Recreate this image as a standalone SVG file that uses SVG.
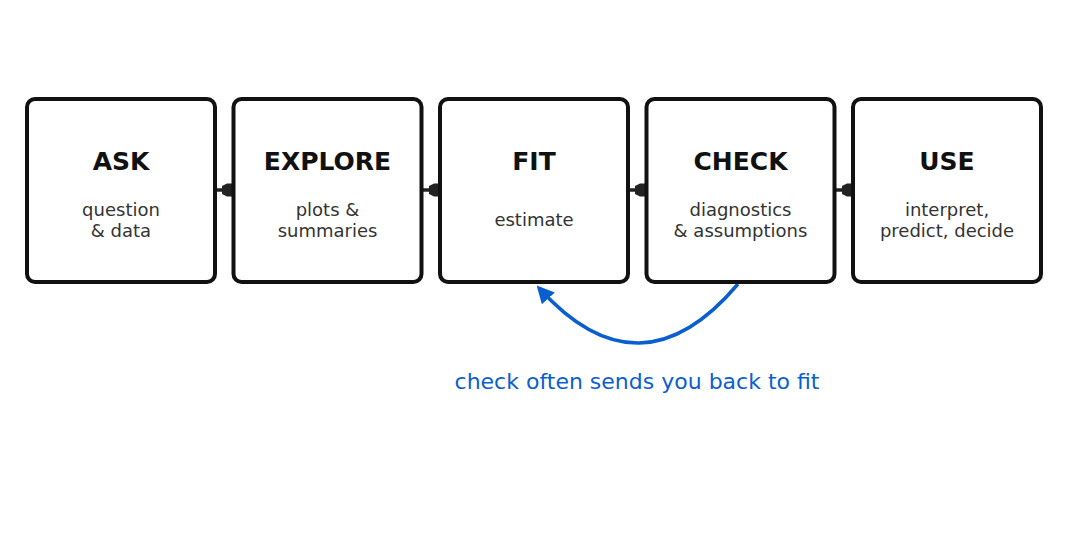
<svg xmlns="http://www.w3.org/2000/svg" width="1068" height="543" viewBox="0 0 1068 543">
<style>
.box{fill:#fff;stroke:#111;stroke-width:4}
.t{font-family:"DejaVu Sans",sans-serif;font-weight:bold;font-size:25px;fill:#111;text-anchor:middle}
.s{font-family:"DejaVu Sans",sans-serif;font-size:18px;fill:#333;text-anchor:middle}
.c{stroke:#222;stroke-width:3.5;fill:none}
.fb{stroke:#0a5fd0;stroke-width:3.5;fill:none}
.lab{font-family:"DejaVu Sans",sans-serif;font-size:22px;fill:#0a5fd0;text-anchor:middle}
</style>
<defs>
<marker id="ah" viewBox="0 0 12 14" refX="11" refY="7" markerWidth="12" markerHeight="14" orient="auto" markerUnits="userSpaceOnUse">
<path d="M0,3 L5,0.5 L12,0.5 L12,13.5 L5,13.5 L0,11 z" fill="#222"/>
</marker>
<marker id="bh" viewBox="0 0 10 10" refX="8" refY="5" markerWidth="5" markerHeight="5" orient="auto" markerUnits="strokeWidth">
<path d="M0,0 L10,5 L0,10 z" fill="#0a5fd0"/>
</marker>
</defs>
<rect width="1068" height="543" fill="#fff"/>
<g id="connectors">
<line class="c" x1="216" y1="190" x2="233" y2="190" marker-end="url(#ah)"/>
<line class="c" x1="423" y1="190" x2="440" y2="190" marker-end="url(#ah)"/>
<line class="c" x1="629" y1="190" x2="646" y2="190" marker-end="url(#ah)"/>
<line class="c" x1="836" y1="190" x2="853" y2="190" marker-end="url(#ah)"/>
<path class="fb" d="M738,284 Q640,400 539,288" marker-end="url(#bh)"/>
<text class="lab" x="637" y="389">check often sends you back to fit</text>
</g>
<g id="ask">
<rect class="box" x="27" y="99" width="188" height="183" rx="8"/>
<text class="t" x="121" y="170">ASK</text>
<text class="s" x="121" y="216">question</text>
<text class="s" x="121" y="237">&amp; data</text>
</g>
<g id="explore">
<rect class="box" x="233.5" y="99" width="188" height="183" rx="8"/>
<text class="t" x="327.5" y="170">EXPLORE</text>
<text class="s" x="327.5" y="216">plots &amp;</text>
<text class="s" x="327.5" y="237">summaries</text>
</g>
<g id="fit">
<rect class="box" x="440" y="99" width="188" height="183" rx="8"/>
<text class="t" x="534" y="170">FIT</text>
<text class="s" x="534" y="226">estimate</text>
</g>
<g id="check">
<rect class="box" x="646.5" y="99" width="188" height="183" rx="8"/>
<text class="t" x="740.5" y="170">CHECK</text>
<text class="s" x="740.5" y="216">diagnostics</text>
<text class="s" x="740.5" y="237">&amp; assumptions</text>
</g>
<g id="use">
<rect class="box" x="853" y="99" width="188" height="183" rx="8"/>
<text class="t" x="947" y="170">USE</text>
<text class="s" x="947" y="216">interpret,</text>
<text class="s" x="947" y="237">predict, decide</text>
</g>
</svg>
